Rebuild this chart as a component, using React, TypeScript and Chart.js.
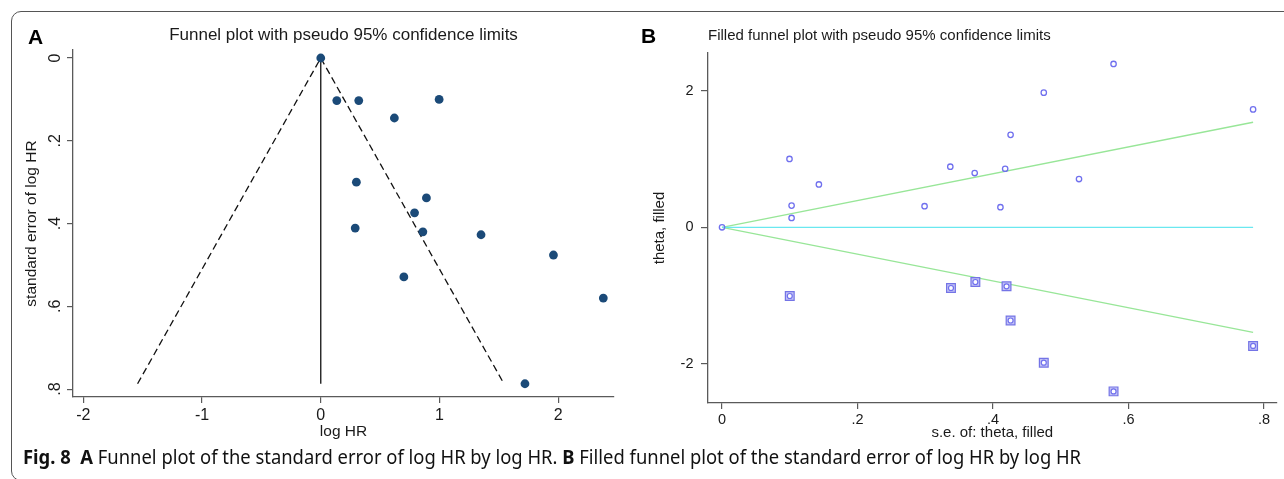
import React, { useEffect, useRef } from "react";
import { Chart, registerables } from "chart.js";
Chart.register(...registerables);

// ---------- Panel A: funnel plot ----------
const A_LOG_HR = [0, 0.135, 0.32, 0.997, 0.62, 0.3, 0.89, 0.79, 0.29, 0.86, 1.35, 0.7, 1.96, 2.38, 1.72];
const A_SE = [0, 0.103, 0.103, 0.1, 0.145, 0.3, 0.338, 0.374, 0.411, 0.42, 0.427, 0.529, 0.476, 0.58, 0.787];
const A_FUNNEL_X = [-1.543, 0, 1.543];
const A_FUNNEL_Y = [0.787, 0, 0.787];
const A_CENTER_X = [0, 0];
const A_CENTER_Y = [0, 0.787];
const A_X_TICKS = [-2, -1, 0, 1, 2];
const A_X_TICK_LABELS = ["-2", "-1", "0", "1", "2"];
const A_Y_TICKS = [0, 0.2, 0.4, 0.6, 0.8];
const A_Y_TICK_LABELS = ["0", ".2", ".4", ".6", ".8"];

// ---------- Panel B: filled funnel plot ----------
const B_OBS_SE = [0, 0.0996, 0.1027, 0.1027, 0.143, 0.299, 0.337, 0.373, 0.418, 0.411, 0.426, 0.475, 0.527, 0.578, 0.784];
const B_OBS_THETA = [0, 1.0, 0.318, 0.137, 0.627, 0.309, 0.887, 0.794, 0.857, 0.294, 1.353, 1.97, 0.706, 2.39, 1.725];
const B_FILL_SE = [0.1, 0.338, 0.374, 0.42, 0.426, 0.475, 0.578, 0.784];
const B_FILL_THETA = [-1.005, -0.888, -0.8, -0.863, -1.363, -1.98, -2.4, -1.735];
const B_LIMIT_SE = [0, 0.784];
const B_UPPER = [0, 1.537];
const B_LOWER = [0, -1.537];
const B_CENTER = [0, 0];
const B_X_TICKS = [0, 0.2, 0.4, 0.6, 0.8];
const B_X_TICK_LABELS = ["0", ".2", ".4", ".6", ".8"];
const B_Y_TICKS = [-2, 0, 2];
const B_Y_TICK_LABELS = ["-2", "0", "2"];

const FONT = "'Liberation Sans', Arial, Helvetica, sans-serif";
const AXIS_COLOR = "#5a5a5a";
const TEXT_COLOR = "#1a1a1a";

const zip = (xs: number[], ys: number[]) => xs.map((x, i) => ({ x, y: ys[i] }));

const panelTitle = {
  id: "panelTitle",
  afterDraw(chart: any, _args: any, opts: any) {
    const { ctx, chartArea } = chart;
    ctx.save();
    ctx.font = opts.font;
    ctx.fillStyle = opts.color;
    ctx.textAlign = opts.align;
    ctx.textBaseline = "alphabetic";
    const x = opts.align === "center" ? (chartArea.left + chartArea.right) / 2 : chartArea.left + (opts.dx || 0);
    ctx.fillText(opts.text, x, opts.y);
    ctx.restore();
  },
};

function axisBase(ticks: number[], labels: string[], size: number) {
  return {
    type: "linear" as const,
    afterBuildTicks: (s: any) => {
      s.ticks = ticks.map((v) => ({ value: v }));
    },
    ticks: {
      callback: (_v: any, i: number) => labels[i],
      font: { family: FONT, size },
      color: TEXT_COLOR,
      autoSkip: false,
    },
    grid: {
      display: true,
      drawOnChartArea: false,
      drawTicks: true,
      tickLength: 6,
      color: AXIS_COLOR,
      lineWidth: 1.2,
    },
    border: { display: true, color: AXIS_COLOR, width: 1.3 },
  };
}

function PanelA() {
  const ref = useRef<HTMLCanvasElement>(null);
  useEffect(() => {
    const xb = axisBase(A_X_TICKS, A_X_TICK_LABELS, 16);
    const yb = axisBase(A_Y_TICKS, A_Y_TICK_LABELS, 16);
    const chart = new Chart(ref.current!, {
      type: "scatter",
      data: {
        datasets: [
          {
            data: zip(A_LOG_HR, A_SE),
            backgroundColor: "#1b4a78",
            borderColor: "#1b4a78",
            borderWidth: 0,
            pointRadius: 4.4,
          },
          {
            data: zip(A_FUNNEL_X, A_FUNNEL_Y),
            showLine: true,
            borderColor: "#111",
            borderWidth: 1.3,
            borderDash: [7, 4],
            pointRadius: 0,
          },
          {
            data: zip(A_CENTER_X, A_CENTER_Y),
            showLine: true,
            borderColor: "#111",
            borderWidth: 1.3,
            pointRadius: 0,
          },
        ],
      },
      options: {
        responsive: false,
        animation: false,
        devicePixelRatio: 1,
        layout: { padding: { top: 50, right: 26, bottom: 3, left: 0 } },
        plugins: {
          legend: { display: false },
          tooltip: { enabled: false },
          panelTitle: {
            text: "Funnel plot with pseudo 95% confidence limits",
            font: `17px ${FONT}`,
            color: TEXT_COLOR,
            align: "center",
            y: 40,
          },
        } as any,
        scales: {
          x: {
            ...xb,
            min: -2.087,
            max: 2.47,
            afterFit: (s: any) => {
              s.height = 50;
            },
            ticks: { ...xb.ticks, padding: 3, maxRotation: 0 },
            title: {
              display: true,
              text: "log HR",
              font: { family: FONT, size: 15.5 },
              color: TEXT_COLOR,
              padding: { top: 0, bottom: 5.7 },
            },
          },
          y: {
            ...yb,
            reverse: true,
            min: -0.0193,
            max: 0.819,
            afterFit: (s: any) => {
              s.width = 73;
            },
            ticks: { ...yb.ticks, minRotation: 90, maxRotation: 90, crossAlign: "center", padding: 4.7 },
            title: {
              display: true,
              text: "standard error of log HR",
              font: { family: FONT, size: 15.5 },
              color: TEXT_COLOR,
              padding: { top: 22.7, bottom: 0 },
            },
          },
        } as any,
      },
      plugins: [panelTitle as any],
    });
    return () => chart.destroy();
  }, []);
  return (
    <canvas
      ref={ref}
      width={640}
      height={450}
      style={{ position: "absolute", left: 0, top: 0, width: 640, height: 450 }}
    />
  );
}

function PanelB() {
  const ref = useRef<HTMLCanvasElement>(null);
  useEffect(() => {
    const xb = axisBase(B_X_TICKS, B_X_TICK_LABELS, 14.5);
    const yb = axisBase(B_Y_TICKS, B_Y_TICK_LABELS, 14.5);
    const circleColor = "#7070ee";
    const chart = new Chart(ref.current!, {
      type: "scatter",
      data: {
        datasets: [
          {
            data: zip(B_OBS_SE, B_OBS_THETA),
            pointStyle: "circle",
            backgroundColor: "rgba(255,255,255,0)",
            borderColor: circleColor,
            borderWidth: 1.3,
            pointRadius: 2.7,
          },
          {
            data: zip(B_FILL_SE, B_FILL_THETA),
            pointStyle: "circle",
            backgroundColor: "rgba(255,255,255,0.95)",
            borderColor: circleColor,
            borderWidth: 1.2,
            pointRadius: 2.5,
          },
          {
            data: zip(B_FILL_SE, B_FILL_THETA),
            pointStyle: "rect",
            backgroundColor: "#c2c2f4",
            borderColor: "#7474e6",
            borderWidth: 1.2,
            pointRadius: 6.2,
          },
          {
            data: zip(B_LIMIT_SE, B_CENTER),
            showLine: true,
            borderColor: "#6ae8f0",
            borderWidth: 1.3,
            pointRadius: 0,
          },
          {
            data: zip(B_LIMIT_SE, B_UPPER),
            showLine: true,
            borderColor: "#98e698",
            borderWidth: 1.3,
            pointRadius: 0,
          },
          {
            data: zip(B_LIMIT_SE, B_LOWER),
            showLine: true,
            borderColor: "#98e698",
            borderWidth: 1.3,
            pointRadius: 0,
          },
        ],
      },
      options: {
        responsive: false,
        animation: false,
        devicePixelRatio: 1,
        layout: { padding: { top: 53, right: 5, bottom: 7, left: 0 } },
        plugins: {
          legend: { display: false },
          tooltip: { enabled: false },
          panelTitle: {
            text: "Filled funnel plot with pseudo 95% confidence limits",
            font: `15px ${FONT}`,
            color: TEXT_COLOR,
            align: "left",
            dx: 0,
            y: 39.5,
          },
        } as any,
        scales: {
          x: {
            ...xb,
            min: -0.0207,
            max: 0.8187,
            afterFit: (s: any) => {
              s.height = 40;
            },
            ticks: { ...xb.ticks, padding: 2, maxRotation: 0 },
            title: {
              display: true,
              text: "s.e. of: theta, filled",
              font: { family: FONT, size: 15 },
              color: TEXT_COLOR,
              padding: { top: 0, bottom: 1 },
            },
          },
          y: {
            ...yb,
            min: -2.57,
            max: 2.55,
            afterFit: (s: any) => {
              s.width = 68;
            },
            grid: { ...yb.grid, tickLength: 7 },
            ticks: { ...yb.ticks, padding: 7.5, crossAlign: "near" },
            title: {
              display: true,
              text: "theta, filled",
              font: { family: FONT, size: 15 },
              color: TEXT_COLOR,
              padding: { top: 10.5, bottom: 0 },
            },
          },
        } as any,
      },
      plugins: [panelTitle as any],
    });
    return () => chart.destroy();
  }, []);
  return (
    <canvas
      ref={ref}
      width={644}
      height={450}
      style={{ position: "absolute", left: 640, top: 0, width: 644, height: 450 }}
    />
  );
}

export default function App() {
  const letter: React.CSSProperties = {
    position: "absolute",
    fontFamily: FONT,
    fontWeight: "bold",
    fontSize: 21,
    lineHeight: "21px",
    color: "#000",
  };
  return (
    <div
      style={{
        position: "absolute",
        left: 0,
        top: 0,
        width: 1284,
        height: 479,
        overflow: "hidden",
        background: "#fff",
      }}
    >
      <div
        style={{
          position: "absolute",
          left: 11,
          top: 11,
          width: 1300,
          height: 470,
          boxSizing: "border-box",
          border: "1.5px solid #555",
          borderRadius: 10,
        }}
      />
      <PanelA />
      <PanelB />
      <div style={{ ...letter, left: 28, top: 26 }}>A</div>
      <div style={{ ...letter, left: 641, top: 25 }}>B</div>
      <div
        style={{
          position: "absolute",
          left: 23,
          top: 447,
          fontFamily: "'Noto Sans', 'Open Sans', sans-serif",
          fontSize: 20,
          lineHeight: "20px",
          color: "#111",
          whiteSpace: "nowrap",
          transform: "scaleX(0.92)",
          transformOrigin: "0 0",
        }}
      >
        <b>Fig. 8</b>&nbsp; <b>A</b> Funnel plot of the standard error of log HR by log HR. <b>B</b> Filled funnel plot of the
        standard error of log HR by log HR
      </div>
    </div>
  );
}
